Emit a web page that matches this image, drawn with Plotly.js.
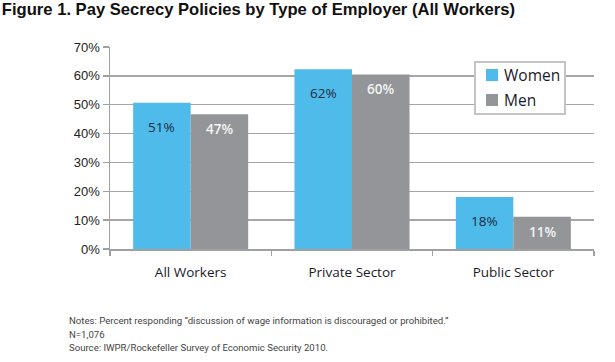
<!DOCTYPE html>
<html>
<head>
<meta charset="utf-8">
<script src="https://cdn.plot.ly/plotly-3.0.1.min.js"></script>
<style>html,body{margin:0;padding:0;background:#fff;}#chart{width:615px;height:362px;}</style>
</head>
<body>
<div id="chart"></div>
<script>
const categories = ["All Workers", "Private Sector", "Public Sector"];
const women = [50.7, 62.3, 18.0];
const men = [46.7, 60.5, 11.2];
const womenLabels = ["51%", "62%", "18%"];
const menLabels = ["47%", "60%", "11%"];
const seriesNames = ["Women", "Men"];
const yTicks = [0, 10, 20, 30, 40, 50, 60, 70];
const titleText = "Figure 1. Pay Secrecy Policies by Type of Employer (All Workers)";
const notes = [
  "Notes: Percent responding \u201cdiscussion of wage information is discouraged or prohibited.\u201d",
  "N=1,076",
  "Source: IWPR/Rockefeller Survey of Economic Security 2010."
];

const COLORS = ["#4fbbea", "#939598"];
const labelFont = "Open Sans, Noto Sans, sans-serif";

// plot area in pixels: x 110..594, y 47..249
const PX = v => (v - 110) / 484;
const PY = v => (249 - v) / 202;

const traces = [
  {type: "bar", name: seriesNames[0], x: categories, y: women, marker: {color: COLORS[0]}, hoverinfo: "none"},
  {type: "bar", name: seriesNames[1], x: categories, y: men, marker: {color: COLORS[1]}, hoverinfo: "none"}
];

const annotations = [];
const shapes = [];
const halfBar = 28.7;
categories.forEach((c, i) => {
  annotations.push({xref: "x", yref: "y", x: c, y: women[i], text: womenLabels[i], showarrow: false,
    xshift: -halfBar, yshift: -24, yanchor: "middle",
    font: {family: labelFont, size: 13.5, color: "#1d2b3a"}});
  annotations.push({xref: "x", yref: "y", x: c, y: men[i], text: menLabels[i], showarrow: false,
    xshift: halfBar, yshift: -15, yanchor: "middle",
    font: {family: labelFont, size: 13.5, color: "#f4f4f4", weight: 600}});
});
const noteY = [320, 334, 347];
notes.forEach((t, i) => {
  annotations.push({xref: "paper", yref: "paper", x: PX(67), y: PY(noteY[i]),
    xanchor: "left", yanchor: "middle", text: t, showarrow: false,
    font: {family: "Roboto, sans-serif", size: 9.6, color: "#444"}});
});

// legend box
shapes.push({type: "rect", xref: "paper", yref: "paper", x0: PX(475), x1: PX(565), y0: PY(114), y1: PY(62),
  fillcolor: "#fff", line: {color: "#c4c4c4", width: 2}, layer: "above"});
const legRowY = [75, 100];
seriesNames.forEach((n, i) => {
  shapes.push({type: "rect", xref: "paper", yref: "paper", x0: PX(486), x1: PX(498),
    y0: PY(legRowY[i] + 6), y1: PY(legRowY[i] - 6), fillcolor: COLORS[i], line: {width: 0}, layer: "above"});
  annotations.push({xref: "paper", yref: "paper", x: PX(502), y: PY(legRowY[i]), xanchor: "left", yanchor: "middle",
    text: n, showarrow: false, font: {family: labelFont, size: 15.5, color: "#1a1a2a"}});
});

const layout = {
  width: 615, height: 362,
  margin: {l: 110, r: 21, t: 47, b: 113},
  paper_bgcolor: "#fff", plot_bgcolor: "#fff",
  title: {text: titleText, x: 0.003, xanchor: "left", xref: "container", y: 1 - 9 / 362, yanchor: "middle",
    font: {family: "Liberation Sans, Arial, sans-serif", size: 16.6, weight: "bold", color: "#111"}},
  barmode: "group", bargap: 0.287, bargroupgap: 0,
  showlegend: false,
  xaxis: {type: "category", showline: true, linecolor: "#a0a0a0", linewidth: 1.5,
    ticks: "outside", tickson: "boundaries", ticklen: 5, tickcolor: "#a0a0a0", tickwidth: 1.5,
    ticklabelstandoff: 10,
    tickfont: {family: labelFont, size: 13.5, color: "#1a1a2a"}, showgrid: false, fixedrange: true},
  yaxis: {range: [0, 70], tickvals: yTicks, ticktext: yTicks.map(v => v + "%"),
    showline: true, linecolor: "#a0a0a0", linewidth: 1.5,
    ticks: "outside", ticklen: 6, tickcolor: "#a0a0a0", tickwidth: 1.5,
    showgrid: true, gridcolor: "#a6a6a6", gridwidth: 1.5, zeroline: false,
    tickfont: {family: "Liberation Sans, Arial, sans-serif", size: 13, color: "#222"}, fixedrange: true},
  shapes: shapes,
  annotations: annotations
};

Plotly.newPlot("chart", traces, layout, {displayModeBar: false, staticPlot: true});
</script>
</body>
</html>
